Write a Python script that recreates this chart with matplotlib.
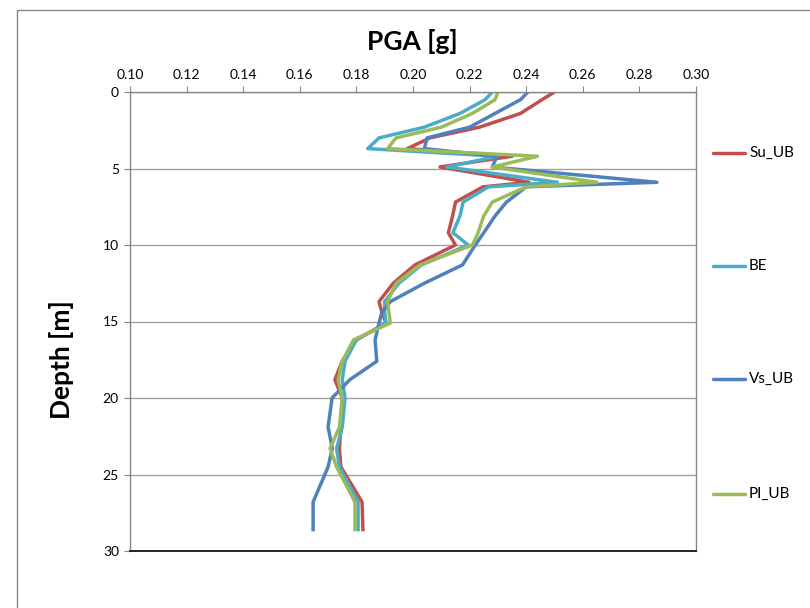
import matplotlib
matplotlib.use('Agg')
import matplotlib.pyplot as plt
from matplotlib.patches import Rectangle

plt.rcParams['font.family'] = ['Lato', 'DejaVu Sans']

# Depth of each output point [m]
depth = [0, 0.5, 1.4, 2.3, 3.0, 3.7, 4.2, 4.9, 5.9, 6.2, 7.2, 8.1, 9.2, 10.0,
         11.3, 12.5, 13.7, 14.4, 15.1, 16.2, 17.6, 18.8, 20.0, 21.9, 23.3,
         24.5, 26.8, 28.6]

# PGA profiles [g]
su_ub = [0.250, 0.2456, 0.238, 0.2235, 0.206, 0.198, 0.235, 0.2095, 0.241,
         0.2247, 0.215, 0.214, 0.2125, 0.215, 0.2007, 0.193, 0.188, 0.189,
         0.1905, 0.180, 0.175, 0.1724, 0.175, 0.1745, 0.174, 0.1745, 0.182,
         0.1823]
be = [0.228, 0.2255, 0.2166, 0.204, 0.188, 0.184, 0.230, 0.212, 0.251,
      0.2266, 0.2177, 0.2166, 0.2141, 0.2195, 0.203, 0.195, 0.190, 0.190,
      0.1905, 0.180, 0.176, 0.175, 0.176, 0.175, 0.173, 0.174, 0.1806,
      0.1806]
vs_ub = [0.2406, 0.238, 0.229, 0.220, 0.205, 0.204, 0.2297, 0.228, 0.2862,
         0.240, 0.233, 0.229, 0.225, 0.222, 0.2175, 0.204, 0.192, 0.189,
         0.188, 0.1866, 0.1872, 0.1777, 0.1714, 0.170, 0.1715, 0.170, 0.1647,
         0.1647]
pi_ub = [0.230, 0.229, 0.221, 0.210, 0.194, 0.191, 0.244, 0.228, 0.265,
         0.240, 0.228, 0.225, 0.223, 0.221, 0.2025, 0.194, 0.191, 0.1915,
         0.192, 0.179, 0.175, 0.1735, 0.175, 0.174, 0.1707, 0.173, 0.1795,
         0.1795]

series = [('Su_UB', su_ub, '#C0504D'),
          ('BE', be, '#4BACC6'),
          ('Vs_UB', vs_ub, '#4F81BD'),
          ('PI_UB', pi_ub, '#9BBB59')]

x_ticks = [0.10, 0.12, 0.14, 0.16, 0.18, 0.20, 0.22, 0.24, 0.26, 0.28, 0.30]
y_ticks = [0, 5, 10, 15, 20, 25, 30]

fig = plt.figure(figsize=(8.1, 6.08), dpi=100)
fig.patches.append(Rectangle((17 / 810, -0.01), 1.1, 1 - 10 / 608 + 0.01,
                             transform=fig.transFigure, fill=False,
                             edgecolor='#868686', linewidth=1.0))

ax = fig.add_axes([130 / 810, 1 - 551 / 608, 566 / 810, 459 / 608])

for name, vals, col in series:
    ax.plot(vals, depth, color=col, linewidth=2.5, label=name,
            solid_joinstyle='round')

ax.set_xlim(0.10, 0.30)
ax.set_ylim(30, 0)
ax.set_xticks(x_ticks)
ax.set_xticklabels(['%.2f' % v for v in x_ticks])
ax.set_yticks(y_ticks)
ax.xaxis.tick_top()
ax.tick_params(axis='both', direction='out', length=4, width=0.8,
               color='#868686', labelsize=10, labelcolor='black', pad=4)
ax.grid(axis='y', color='#A0A0A0', linewidth=1.0)
ax.set_axisbelow(True)

for side in ['top', 'left', 'right']:
    ax.spines[side].set_color('#868686')
    ax.spines[side].set_linewidth(1.0)
ax.spines['bottom'].set_color('black')
ax.spines['bottom'].set_linewidth(1.2)

fig.text(412 / 810, 1 - 42 / 608, 'PGA [g]', ha='center', va='center',
         fontsize=19, fontweight='bold')
fig.text(62 / 810, 1 - 360 / 608, 'Depth [m]', ha='center', va='center',
         rotation=90, fontsize=19, fontweight='bold')

# legend entries spread down the right-hand side
legend_y = [153, 266, 379, 494]
for (name, vals, col), ly in zip(series, legend_y):
    yf = 1 - ly / 608
    fig.add_artist(plt.Line2D([713 / 810, 745 / 810], [yf, yf],
                              transform=fig.transFigure, color=col,
                              linewidth=2.5, solid_capstyle='round'))
    fig.text(749 / 810, yf, name, ha='left', va='center', fontsize=11)

fig.savefig('out.png', dpi=100)
